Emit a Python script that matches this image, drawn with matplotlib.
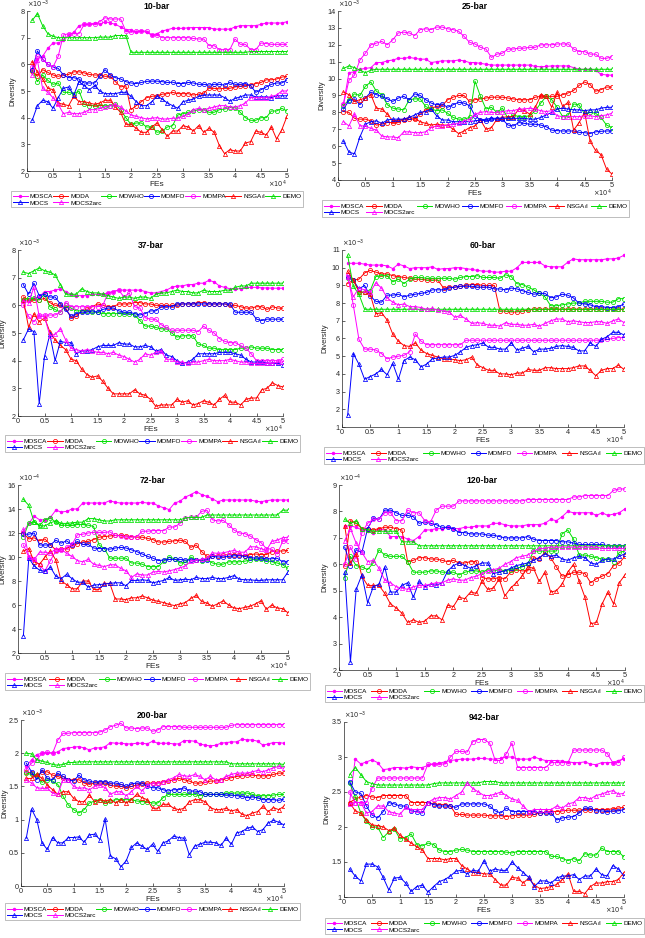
import matplotlib.pyplot as plt
import numpy as np

plt.rcParams['font.family'] = ['Liberation Sans', 'DejaVu Sans']
plt.rcParams['mathtext.fontset'] = 'dejavusans'

W, H = 645, 938

# function evaluations (x axis), plotted in units of 1e4
fes = np.arange(1000, 50001, 1000)

algos = ['MOSCA', 'MODA', 'MOWHO', 'MOMFO', 'MOMPA', r'NSGA$_{I}$I', 'DEMO', 'MOCS', 'MOCS2arc']
colors = ['#ff00ff', '#ff0000', '#00e000', '#0000ff', '#ff00ff', '#ff0000', '#00e000', '#0000ff', '#ff00ff']
markers = ['.', 'o', 'o', 'o', 'o', '^', '^', '^', '^']

# ---------------- 10-bar (x1e-3) ----------------
b10_mosca = [5.8, 6.2, 6.3, 6.6, 6.8, 6.8, 6.9, 7.1, 7.2, 7.45, 7.5, 7.5, 7.55, 7.5, 7.6, 7.55, 7.5, 7.4, 7.3, 7.3,
             7.2, 7.25, 7.2, 7.1, 7.15, 7.25, 7.3, 7.35, 7.35, 7.35, 7.37, 7.38, 7.38, 7.38, 7.38, 7.32, 7.32, 7.32, 7.32, 7.4,
             7.45, 7.45, 7.45, 7.45, 7.5, 7.55, 7.55, 7.55, 7.55, 7.6]
b10_moda = [5.75, 5.55, 5.8, 5.7, 5.6, 5.55, 5.6, 5.62, 5.72, 5.72, 5.68, 5.62, 5.6, 5.6, 5.55, 5.55, 5.35, 5.15, 5.2, 4.3,
            4.45, 4.6, 4.75, 4.8, 4.82, 4.88, 4.9, 4.95, 4.9, 4.9, 4.9, 4.85, 4.88, 4.92, 5.1, 5.1, 5.08, 5.1, 5.1, 5.15,
            5.18, 5.2, 5.22, 5.28, 5.32, 5.42, 5.42, 5.45, 5.52, 5.55]
b10_mowho = [5.8, 5.35, 5.6, 5.4, 5.25, 5.3, 4.95, 4.95, 4.9, 5.0, 4.5, 4.45, 4.45, 4.45, 4.45, 4.45, 4.5, 4.3, 4.0, 3.75,
             3.8, 3.8, 3.65, 3.65, 3.45, 3.5, 3.65, 3.7, 4.1, 4.15, 4.2, 4.25, 4.3, 4.3, 4.2, 4.2, 4.3, 4.32, 4.38, 4.38,
             4.2, 4.0, 3.9, 3.9, 4.0, 4.0, 4.25, 4.25, 4.35, 4.25]
b10_momfo = [5.8, 6.5, 6.2, 6.0, 5.9, 5.85, 5.6, 5.5, 5.5, 5.45, 5.3, 5.3, 5.3, 5.55, 5.8, 5.6, 5.5, 5.45, 5.35, 5.3,
             5.28, 5.32, 5.36, 5.37, 5.37, 5.35, 5.32, 5.33, 5.28, 5.28, 5.32, 5.3, 5.25, 5.25, 5.22, 5.25, 5.25, 5.22, 5.32, 5.25,
             5.25, 5.28, 5.2, 4.95, 5.05, 5.15, 5.25, 5.3, 5.3, 5.42]
b10_mompa = [5.9, 6.3, 6.2, 6.0, 5.9, 6.3, 7.1, 7.15, 7.15, 7.15, 7.5, 7.5, 7.5, 7.6, 7.75, 7.7, 7.7, 7.7, 7.25, 7.2,
             7.25, 7.25, 7.25, 7.1, 7.1, 7.0, 7.0, 7.0, 7.0, 7.0, 7.0, 6.97, 6.95, 6.95, 6.7, 6.7, 6.55, 6.55, 6.55, 6.95,
             6.75, 6.75, 6.55, 6.55, 6.8, 6.78, 6.75, 6.75, 6.75, 6.75]
b10_nsga = [6.1, 5.7, 5.45, 5.1, 5.05, 4.55, 4.5, 4.45, 4.8, 4.6, 4.6, 4.55, 4.5, 4.55, 4.65, 4.65, 4.4, 4.2, 3.75, 3.75,
            3.6, 3.45, 3.45, 3.65, 3.8, 3.55, 3.3, 3.5, 3.5, 3.7, 3.65, 3.5, 3.7, 3.45, 3.6, 3.45, 2.95, 2.65, 2.8, 2.75,
            2.75, 3.05, 3.1, 3.5, 3.45, 3.35, 3.65, 3.2, 3.55, 4.05]
b10_demo = [7.65, 7.9, 7.45, 7.15, 7.05, 7.0, 7.0, 7.0, 7.0, 7.0, 7.0, 7.0, 7.0, 7.02, 7.02, 7.02, 7.08, 7.08, 7.08, 6.45,
            6.45, 6.45, 6.45, 6.45, 6.45, 6.45, 6.45, 6.45, 6.45, 6.45, 6.45, 6.45, 6.45, 6.45, 6.45, 6.45, 6.45, 6.45, 6.45, 6.45,
            6.45, 6.45, 6.48, 6.48, 6.48, 6.48, 6.48, 6.48, 6.48, 6.48]
b10_mocs = [3.9, 4.45, 4.65, 4.6, 4.35, 4.75, 5.1, 5.15, 4.85, 5.35, 5.2, 5.05, 5.2, 5.0, 4.9, 4.9, 4.9, 4.95, 4.95, 4.8,
            4.6, 4.45, 4.45, 4.6, 4.8, 4.7, 4.55, 4.45, 4.35, 4.6, 4.65, 4.7, 4.8, 4.85, 4.85, 4.85, 4.85, 4.75, 4.62, 4.72,
            4.78, 4.85, 4.85, 4.78, 4.78, 4.78, 4.75, 4.82, 4.82, 4.82]
b10_mocs2 = [5.6, 6.15, 5.1, 4.95, 4.75, 4.5, 4.15, 4.2, 4.15, 4.15, 4.2, 4.3, 4.3, 4.35, 4.4, 4.45, 4.5, 4.4, 4.25, 4.1,
             4.05, 4.0, 3.95, 3.98, 4.0, 3.95, 3.95, 3.98, 3.98, 4.05, 4.15, 4.3, 4.35, 4.3, 4.35, 4.4, 4.45, 4.45, 4.4, 4.4,
             4.45, 4.55, 4.75, 4.75, 4.75, 4.75, 4.8, 4.85, 5.0, 5.0]

# ---------------- 25-bar (x1e-3) ----------------
b25_mosca = [8.5, 10.35, 10.4, 10.55, 10.6, 10.65, 10.95, 10.95, 11.05, 11.1, 11.2, 11.2, 11.25, 11.2, 11.15, 11.15, 10.95, 11.0, 11.05, 11.05,
             11.05, 11.1, 11.05, 10.95, 10.95, 10.9, 10.85, 10.8, 10.8, 10.8, 10.8, 10.8, 10.8, 10.8, 10.8, 10.72, 10.7, 10.72, 10.75, 10.75,
             10.75, 10.75, 10.65, 10.55, 10.55, 10.55, 10.5, 10.25, 10.22, 10.2]
b25_moda = [8.05, 8.0, 7.65, 7.6, 7.6, 7.5, 7.25, 7.3, 7.4, 7.4, 7.45, 7.55, 7.6, 7.6, 7.9, 8.15, 8.25, 8.35, 8.4, 8.75,
            8.9, 9.0, 9.0, 8.65, 8.75, 8.8, 8.85, 8.9, 8.9, 8.9, 8.85, 8.8, 8.75, 8.75, 8.75, 8.9, 8.95, 8.95, 8.95, 8.95,
            9.05, 9.15, 9.3, 9.6, 9.8, 9.65, 9.25, 9.35, 9.5, 9.5]
b25_mowho = [8.4, 8.75, 9.1, 9.0, 9.55, 9.8, 9.25, 9.05, 8.45, 8.25, 8.2, 8.15, 8.75, 8.8, 8.8, 8.35, 8.2, 8.1, 8.15, 7.95,
             7.7, 7.6, 7.6, 7.7, 9.85, 8.95, 8.2, 8.3, 8.0, 8.25, 7.65, 7.85, 7.75, 7.75, 7.8, 8.1, 8.55, 8.95, 8.75, 8.3,
             7.75, 7.85, 8.5, 8.45, 7.9, 8.0, 7.95, 7.7, 7.25, 7.1]
b25_momfo = [8.2, 8.7, 8.8, 8.45, 8.85, 9.2, 9.05, 8.95, 8.8, 8.65, 8.85, 8.95, 8.75, 9.1, 9.0, 8.75, 8.55, 8.45, 8.5, 8.3,
             8.45, 8.6, 8.55, 8.4, 7.8, 7.55, 7.5, 7.6, 7.6, 7.6, 7.25, 7.2, 7.4, 7.35, 7.3, 7.3, 7.25, 7.15, 6.95, 6.92,
             6.9, 6.9, 6.9, 6.82, 6.8, 6.75, 6.85, 6.88, 6.9, 6.9]
b25_mompa = [8.5, 9.9, 10.2, 11.1, 11.5, 12.0, 12.1, 12.2, 12.0, 12.3, 12.7, 12.75, 12.7, 12.55, 12.9, 12.95, 12.9, 13.05, 13.05, 12.95,
             12.9, 12.8, 12.5, 12.15, 12.05, 11.85, 11.75, 11.25, 11.45, 11.5, 11.75, 11.75, 11.8, 11.8, 11.85, 11.85, 12.0, 12.0, 12.0, 12.05,
             12.05, 12.05, 11.75, 11.6, 11.6, 11.45, 11.45, 11.2, 11.2, 11.3]
b25_nsga = [9.2, 9.05, 8.65, 8.75, 8.85, 9.05, 8.25, 8.2, 7.9, 7.5, 7.55, 7.6, 7.7, 7.65, 7.45, 7.35, 7.25, 7.3, 7.25, 7.25,
            7.0, 6.75, 6.9, 7.1, 7.2, 7.55, 7.0, 7.1, 7.6, 7.7, 7.75, 7.75, 8.2, 8.1, 7.9, 8.3, 9.0, 8.95, 8.3, 9.2,
            8.35, 8.6, 6.95, 7.4, 8.0, 6.3, 5.75, 5.5, 4.65, 4.35]
b25_demo = [10.6, 10.75, 10.65, 10.5, 10.35, 10.5, 10.55, 10.55, 10.55, 10.55, 10.55, 10.55, 10.55, 10.55, 10.55, 10.55, 10.55, 10.55, 10.55, 10.55,
            10.55, 10.55, 10.55, 10.55, 10.55, 10.55, 10.55, 10.55, 10.55, 10.55, 10.55, 10.55, 10.55, 10.55, 10.55, 10.55, 10.55, 10.55, 10.55, 10.55,
            10.55, 10.55, 10.55, 10.55, 10.55, 10.55, 10.55, 10.55, 10.55, 10.55]
b25_mocs = [6.3, 5.65, 5.55, 6.55, 7.3, 7.45, 7.5, 7.35, 7.55, 7.6, 7.6, 7.6, 7.7, 7.85, 8.0, 8.05, 8.2, 7.8, 7.55, 7.55,
            7.45, 7.45, 7.45, 7.45, 7.5, 7.55, 7.6, 7.65, 7.65, 7.65, 7.65, 7.65, 7.65, 7.65, 7.6, 7.6, 7.7, 7.85, 8.0, 8.2,
            8.25, 8.2, 8.15, 8.15, 8.1, 8.15, 8.15, 8.25, 8.3, 8.3]
b25_mocs2 = [7.45, 7.2, 7.9, 7.2, 7.2, 7.05, 6.95, 6.6, 6.55, 6.55, 6.5, 6.85, 6.85, 6.8, 6.8, 6.85, 7.1, 7.2, 7.2, 7.25,
             7.3, 7.35, 7.5, 7.6, 7.9, 8.0, 8.05, 8.0, 8.0, 8.05, 8.1, 8.1, 8.2, 8.2, 8.25, 8.2, 8.1, 8.05, 8.1, 7.8,
             7.75, 7.75, 7.75, 7.75, 7.8, 7.8, 7.75, 7.8, 7.85, 7.95]

# ---------------- 37-bar (x1e-3) ----------------
b37_mosca = [6.2, 6.15, 6.25, 6.3, 6.5, 6.5, 6.55, 6.6, 6.5, 6.4, 6.35, 6.35, 6.35, 6.4, 6.4, 6.4, 6.45, 6.5, 6.55, 6.55,
             6.55, 6.55, 6.55, 6.5, 6.45, 6.45, 6.5, 6.55, 6.65, 6.7, 6.7, 6.75, 6.75, 6.8, 6.8, 6.9, 6.85, 6.7, 6.65, 6.6,
             6.6, 6.6, 6.65, 6.65, 6.65, 6.63, 6.63, 6.62, 6.62, 6.62]
b37_moda = [6.3, 6.2, 6.2, 6.2, 6.25, 6.1, 6.0, 6.0, 5.9, 5.55, 5.6, 5.8, 5.85, 5.95, 6.05, 6.0, 5.95, 5.95, 6.05, 6.05,
            6.05, 6.1, 6.1, 6.05, 6.05, 6.0, 6.0, 6.0, 6.0, 6.0, 6.05, 6.05, 6.05, 6.1, 6.1, 6.05, 6.05, 6.05, 6.05, 6.0,
            6.0, 5.95, 5.9, 5.9, 5.95, 5.95, 5.85, 5.95, 5.9, 5.9]
b37_mowho = [6.2, 6.25, 6.25, 6.2, 6.4, 5.95, 5.85, 5.75, 6.0, 5.9, 5.8, 5.8, 5.8, 5.75, 5.75, 5.7, 5.7, 5.7, 5.7, 5.7,
             5.7, 5.65, 5.45, 5.25, 5.25, 5.2, 5.15, 5.15, 5.0, 4.85, 4.9, 4.9, 4.9, 4.6, 4.55, 4.45, 4.45, 4.4, 4.4, 4.4,
             4.4, 4.45, 4.45, 4.5, 4.45, 4.45, 4.45, 4.4, 4.4, 4.4]
b37_momfo = [6.75, 6.4, 6.8, 6.35, 6.4, 6.3, 6.3, 6.05, 5.85, 5.6, 5.7, 5.75, 5.75, 5.8, 5.75, 5.85, 5.9, 5.9, 5.8, 5.75,
             5.75, 5.7, 5.65, 5.7, 5.8, 5.8, 5.95, 5.95, 5.95, 6.05, 6.05, 6.05, 6.05, 6.05, 6.05, 6.05, 6.05, 6.05, 6.05, 6.05,
             5.75, 5.75, 5.75, 5.75, 5.5, 5.45, 5.5, 5.5, 5.5, 5.5]
b37_mompa = [6.0, 5.6, 5.4, 5.65, 5.65, 5.65, 5.65, 5.75, 6.1, 5.95, 5.95, 5.95, 5.95, 5.95, 5.95, 6.0, 6.45, 6.5, 6.55, 6.3,
             6.45, 5.95, 5.9, 5.55, 5.5, 5.5, 5.3, 5.2, 5.1, 5.1, 5.1, 5.1, 5.1, 5.05, 5.25, 5.1, 5.0, 4.8, 4.7, 4.65,
             4.65, 4.55, 4.45, 4.25, 4.0, 4.0, 4.0, 4.0, 4.0, 4.05]
b37_nsga = [6.2, 5.2, 5.7, 5.4, 5.55, 5.05, 4.75, 4.55, 4.4, 4.05, 4.0, 3.7, 3.5, 3.4, 3.45, 3.25, 3.0, 2.8, 2.8, 2.8,
            2.8, 2.95, 2.8, 2.75, 2.6, 2.35, 2.4, 2.4, 2.4, 2.6, 2.5, 2.55, 2.4, 2.45, 2.55, 2.5, 2.4, 2.6, 2.75, 2.5,
            2.5, 2.4, 2.6, 2.65, 2.65, 2.95, 3.0, 3.2, 3.1, 3.05]
b37_demo = [7.2, 7.15, 7.25, 7.35, 7.25, 7.2, 7.1, 6.75, 6.4, 6.4, 6.4, 6.6, 6.5, 6.45, 6.45, 6.4, 6.35, 6.3, 6.25, 6.3,
            6.3, 6.25, 6.3, 6.3, 6.25, 6.4, 6.45, 6.45, 6.5, 6.55, 6.5, 6.5, 6.45, 6.45, 6.55, 6.5, 6.5, 6.5, 6.55, 6.55,
            6.65, 6.7, 6.7, 6.8, 6.8, 6.8, 6.8, 6.8, 6.8, 6.8]
b37_mocs = [4.75, 5.15, 5.05, 2.45, 4.15, 4.95, 4.0, 4.7, 4.65, 4.65, 4.25, 4.35, 4.35, 4.4, 4.5, 4.55, 4.55, 4.55, 4.65, 4.6,
            4.6, 4.5, 4.5, 4.55, 4.5, 4.35, 4.4, 4.2, 4.15, 4.0, 3.9, 3.95, 4.05, 4.25, 4.25, 4.25, 4.25, 4.3, 4.3, 4.3,
            4.25, 4.2, 4.05, 3.95, 3.95, 3.95, 3.9, 3.9, 3.9, 3.85]
b37_mocs2 = [6.15, 6.1, 6.65, 5.6, 5.6, 4.9, 4.95, 5.15, 4.75, 4.45, 4.4, 4.35, 4.4, 4.35, 4.3, 4.3, 4.25, 4.3, 4.2, 4.15,
             4.05, 3.95, 4.05, 4.25, 4.2, 4.3, 4.35, 4.05, 4.05, 3.95, 3.95, 3.9, 3.95, 3.95, 4.0, 4.05, 4.0, 4.0, 4.0, 4.05,
             4.0, 3.95, 3.95, 3.9, 3.9, 3.9, 3.9, 3.9, 3.95, 3.95]

# ---------------- 60-bar (x1e-3) ----------------
b60_mosca = [10.25, 10.25, 10.25, 10.2, 10.15, 10.15, 10.15, 10.1, 9.95, 10.2, 10.1, 9.95, 10.0, 10.0, 10.0, 10.05, 9.9, 9.95, 9.95, 10.0,
             10.0, 9.95, 9.9, 9.85, 9.8, 9.8, 9.75, 9.75, 9.8, 9.8, 10.0, 10.3, 10.3, 10.3, 10.3, 10.1, 10.05, 10.05, 10.05, 10.3,
             10.5, 10.45, 10.45, 10.45, 10.45, 10.45, 10.5, 10.5, 10.55, 10.7]
b60_moda = [9.1, 9.3, 9.35, 9.7, 9.85, 9.75, 9.65, 9.65, 9.55, 9.5, 9.45, 9.4, 9.35, 9.35, 9.3, 9.3, 9.3, 8.85, 8.9, 8.9,
            8.95, 9.0, 9.05, 9.05, 9.0, 9.0, 9.0, 7.55, 7.55, 7.5, 7.5, 7.55, 7.6, 7.65, 7.65, 7.65, 7.65, 7.65, 7.65, 7.65,
            7.65, 7.65, 7.65, 7.65, 7.65, 7.65, 7.65, 7.65, 7.65, 7.65]
b60_mowho = [9.4, 9.3, 8.65, 8.6, 8.7, 9.5, 9.55, 9.55, 9.2, 9.35, 9.1, 9.35, 9.45, 9.45, 9.4, 9.4, 9.4, 9.4, 9.4, 9.35,
             9.45, 9.5, 9.5, 9.55, 9.45, 9.45, 9.45, 9.4, 9.6, 9.5, 9.1, 9.05, 8.9, 8.75, 8.55, 8.35, 7.85, 7.85, 7.9, 7.95,
             8.0, 8.0, 8.1, 8.1, 8.1, 8.1, 8.05, 8.05, 8.25, 8.25]
b60_momfo = [9.5, 9.3, 8.8, 9.0, 8.4, 8.1, 8.05, 8.45, 8.45, 8.5, 8.35, 8.45, 8.5, 8.55, 8.6, 8.75, 8.75, 8.75, 8.85, 8.9,
             8.95, 8.95, 8.95, 8.9, 8.9, 8.9, 8.8, 8.8, 8.75, 8.85, 8.8, 8.7, 8.6, 8.5, 8.55, 8.55, 8.3, 8.35, 8.5, 8.45,
             8.3, 8.0, 7.95, 7.9, 7.8, 7.8, 7.75, 7.75, 7.8, 7.95]
b60_mompa = [9.6, 7.9, 5.95, 5.4, 5.4, 5.35, 5.15, 4.85, 4.95, 5.0, 5.05, 5.25, 6.25, 5.85, 5.65, 5.65, 5.65, 5.65, 5.65, 5.65,
             5.65, 5.9, 5.9, 5.9, 5.9, 5.9, 5.9, 5.9, 5.9, 5.9, 5.9, 5.9, 5.9, 5.9, 5.9, 5.9, 5.9, 5.9, 5.9, 5.9,
             5.9, 5.9, 5.9, 5.9, 5.9, 5.9, 5.95, 6.0, 6.05, 6.05]
b60_nsga = [9.8, 9.3, 8.65, 8.6, 8.5, 7.4, 7.45, 7.05, 6.25, 5.85, 5.6, 5.55, 5.75, 5.35, 5.15, 5.05, 4.95, 4.85, 4.85, 4.8,
            4.75, 4.8, 4.95, 4.5, 4.35, 4.2, 4.2, 4.0, 4.0, 3.95, 4.05, 4.05, 4.25, 4.2, 4.2, 4.35, 4.35, 4.3, 4.3, 4.3,
            4.35, 4.45, 4.45, 4.2, 3.9, 4.2, 4.3, 4.3, 4.5, 4.25]
b60_demo = [10.7, 8.95, 8.5, 7.65, 7.65, 7.65, 7.65, 7.65, 7.65, 7.65, 7.65, 7.65, 7.65, 7.65, 7.65, 7.65, 7.65, 7.65, 7.65, 7.65,
            7.65, 7.65, 7.65, 7.65, 7.65, 7.65, 7.65, 7.65, 7.65, 7.65, 7.65, 7.65, 7.65, 7.65, 7.65, 7.65, 7.65, 7.65, 7.65, 7.65,
            7.65, 7.65, 7.65, 7.65, 7.65, 7.65, 7.65, 7.65, 7.65, 7.65]
b60_mocs = [1.65, 5.15, 4.55, 3.7, 3.85, 4.0, 4.25, 3.95, 4.6, 3.7, 4.75, 4.95, 4.8, 4.4, 4.55, 4.85, 4.9, 4.95, 4.95, 5.05,
            5.25, 5.5, 5.6, 5.65, 5.75, 5.5, 5.5, 5.4, 5.4, 5.75, 5.35, 5.45, 5.55, 5.25, 5.4, 5.4, 5.45, 5.55, 5.6, 5.55,
            5.5, 5.3, 5.3, 5.75, 5.55, 5.95, 6.1, 6.35, 6.35, 6.2]
b60_mocs2 = [9.45, 8.35, 8.85, 8.75, 8.6, 9.15, 8.85, 8.3, 8.05, 7.9, 7.95, 7.8, 7.8, 7.75, 7.65, 7.7, 7.6, 7.55, 7.5, 7.2,
             7.3, 7.1, 6.85, 6.9, 6.85, 6.75, 6.75, 6.7, 6.9, 6.8, 6.8, 6.75, 6.75, 6.8, 6.7, 6.85, 7.0, 7.1, 7.1, 6.95,
             7.0, 6.95, 6.9, 6.9, 6.95, 6.95, 6.85, 7.0, 7.1, 6.9]

# ---------------- 72-bar (x1e-4) ----------------
b72_mosca = [12.1, 12.8, 13.4, 13.1, 13.1, 13.3, 13.9, 13.75, 13.8, 14.0, 14.0, 14.5, 14.5, 14.5, 14.5, 14.5, 14.7, 14.55, 14.5, 14.5,
             14.5, 14.5, 14.55, 14.5, 14.5, 14.25, 14.1, 13.95, 14.5, 14.65, 15.0, 15.2, 15.45, 15.2, 15.05, 14.85, 14.6, 14.75, 14.75, 14.75,
             14.75, 14.75, 14.75, 14.65, 14.6, 14.7, 14.75, 14.75, 14.75, 14.75]
b72_moda = [12.0, 11.5, 11.6, 11.35, 11.5, 11.0, 10.6, 10.65, 10.7, 10.95, 11.1, 11.25, 11.3, 11.45, 11.65, 11.7, 11.75, 11.8, 11.8, 11.75,
            11.7, 11.65, 11.65, 11.55, 11.45, 11.25, 11.25, 11.3, 11.35, 11.4, 11.3, 10.8, 11.0, 10.45, 10.05, 10.1, 10.1, 10.15, 10.2, 10.2,
            10.15, 10.1, 10.2, 10.25, 10.2, 10.2, 10.45, 10.5, 10.5, 10.55]
b72_mowho = [11.7, 12.8, 12.95, 12.65, 13.1, 13.25, 12.9, 12.65, 12.65, 12.65, 12.7, 12.7, 12.65, 12.55, 11.0, 10.7, 9.9, 9.9, 9.9, 9.9,
             9.5, 9.5, 9.4, 9.2, 9.2, 9.2, 9.65, 10.0, 9.85, 9.5, 9.55, 10.0, 9.75, 9.7, 9.8, 9.5, 9.4, 9.4, 9.6, 9.6,
             9.6, 9.65, 9.75, 9.8, 9.8, 9.7, 9.6, 9.5, 9.35, 9.05]
b72_momfo = [11.9, 11.9, 12.0, 11.0, 11.0, 11.0, 11.4, 11.15, 11.35, 11.0, 11.3, 11.05, 11.05, 10.75, 10.7, 10.7, 10.65, 10.75, 10.8, 10.75,
             10.6, 10.45, 10.25, 10.05, 9.9, 9.7, 9.75, 9.8, 9.8, 9.8, 9.75, 9.75, 9.75, 9.75, 9.75, 10.05, 10.0, 10.0, 10.05, 10.1,
             10.1, 10.05, 9.95, 9.9, 9.9, 9.85, 9.85, 9.9, 9.6, 9.6]
b72_mompa = [11.0, 10.0, 9.8, 9.3, 8.85, 9.7, 10.5, 10.55, 10.8, 11.05, 11.85, 11.9, 12.0, 12.05, 12.05, 12.05, 12.1, 11.8, 11.75, 11.65,
             11.65, 11.7, 12.15, 12.15, 12.2, 12.2, 12.2, 12.5, 12.5, 12.8, 13.25, 13.3, 13.3, 13.8, 13.9, 13.1, 13.0, 13.05, 12.7, 12.25,
             12.0, 11.95, 11.75, 11.45, 11.2, 10.7, 10.65, 10.25, 11.3, 11.35]
b72_nsga = [10.5, 10.7, 9.6, 9.4, 10.0, 10.5, 9.75, 8.0, 7.7, 7.35, 7.35, 8.0, 8.0, 7.3, 7.3, 7.8, 7.8, 6.5, 6.5, 6.45,
            6.6, 6.6, 6.75, 6.6, 6.4, 6.3, 6.2, 6.05, 5.95, 6.1, 6.2, 6.55, 6.8, 6.3, 6.15, 5.9, 6.1, 6.35, 6.0, 5.75,
            5.7, 5.8, 5.9, 6.1, 6.35, 5.65, 6.0, 5.75, 5.7, 5.35]
b72_demo = [14.8, 14.3, 12.9, 12.6, 12.6, 12.85, 13.0, 12.8, 12.8, 12.85, 12.9, 12.9, 13.2, 13.2, 13.1, 13.0, 13.0, 13.1, 13.1, 13.1,
            13.1, 13.1, 13.1, 13.1, 13.1, 13.1, 13.1, 13.1, 13.1, 13.1, 13.25, 13.3, 13.3, 13.3, 13.5, 13.5, 13.5, 13.5, 13.5, 13.5,
            13.5, 13.5, 13.5, 13.5, 13.5, 13.5, 13.5, 13.5, 13.9, 13.9]
b72_mocs = [3.45, 9.9, 9.25, 8.9, 8.8, 9.15, 8.4, 8.2, 8.55, 8.2, 7.9, 7.9, 7.5, 7.65, 7.7, 7.75, 7.8, 7.85, 7.85, 7.6,
            8.05, 8.05, 8.1, 8.05, 7.85, 7.95, 8.05, 8.3, 8.05, 8.1, 8.15, 8.1, 8.3, 8.2, 8.2, 8.3, 8.2, 8.2, 8.3, 8.45,
            8.15, 8.1, 8.1, 8.05, 8.05, 8.1, 8.1, 8.1, 8.1, 8.75]
b72_mocs2 = [12.3, 10.0, 9.8, 10.4, 10.4, 10.3, 10.7, 10.65, 10.3, 10.05, 9.7, 9.6, 9.8, 9.4, 9.3, 9.2, 9.35, 9.35, 9.05, 8.85,
             8.3, 8.6, 8.5, 8.5, 8.75, 8.8, 8.75, 8.85, 8.95, 9.1, 9.25, 9.65, 9.75, 9.8, 9.9, 10.35, 10.3, 10.35, 10.45, 10.55,
             10.4, 10.4, 10.85, 10.85, 10.7, 10.55, 11.3, 11.4, 11.6, 11.65]

# ---------------- 120-bar (x1e-4) ----------------
b120_mosca = [7.45, 7.45, 7.4, 7.3, 7.25, 7.2, 7.35, 7.3, 7.05, 7.05, 7.05, 6.95, 6.9, 7.05, 7.3, 7.3, 7.35, 7.35, 7.4, 7.35,
              7.35, 7.4, 7.4, 7.45, 7.45, 7.45, 7.55, 7.55, 7.5, 7.45, 7.45, 7.45, 7.5, 7.5, 7.5, 7.55, 7.7, 7.65, 7.8, 8.0,
              7.95, 7.95, 7.95, 7.95, 7.85, 7.95, 7.85, 7.9, 7.95, 8.1]
b120_moda = [5.95, 7.65, 7.55, 7.35, 7.35, 7.3, 7.35, 7.4, 7.4, 7.35, 7.3, 6.1, 6.15, 6.25, 6.25, 6.2, 6.2, 6.15, 6.1, 6.15,
             6.05, 6.05, 6.1, 6.1, 5.5, 5.45, 5.45, 5.5, 5.45, 5.7, 5.8, 5.75, 5.75, 6.25, 6.2, 6.45, 6.25, 5.9, 5.55, 5.6,
             5.7, 5.7, 5.65, 5.3, 5.45, 5.55, 5.65, 5.95, 6.05, 6.3]
b120_mowho = [5.5, 6.3, 5.95, 5.9, 5.8, 6.05, 6.55, 6.35, 6.3, 6.3, 6.3, 6.1, 5.7, 5.7, 5.7, 5.75, 5.75, 5.7, 5.7, 5.7,
              5.6, 5.7, 5.75, 5.75, 5.7, 5.8, 5.75, 5.8, 5.75, 5.8, 5.85, 5.9, 6.0, 6.5, 6.5, 6.5, 6.5, 6.5, 7.15, 7.3,
              6.95, 6.35, 6.35, 6.3, 6.25, 6.2, 6.2, 6.1, 6.45, 6.5]
b120_momfo = [6.65, 5.95, 6.55, 6.45, 7.35, 7.75, 7.7, 8.05, 8.05, 7.95, 7.85, 7.85, 7.8, 7.55, 7.6, 7.55, 7.5, 7.4, 7.4, 7.35,
              7.2, 7.2, 7.15, 7.15, 7.15, 7.1, 7.1, 7.05, 7.0, 7.0, 7.0, 7.0, 7.05, 6.95, 6.9, 6.9, 6.9, 6.9, 6.85, 6.85,
              6.8, 6.75, 6.75, 6.75, 6.75, 6.75, 6.7, 6.7, 6.7, 6.7]
b120_mompa = [6.0, 6.65, 6.2, 7.2, 7.55, 7.7, 7.7, 7.95, 7.95, 7.65, 7.65, 8.05, 7.95, 7.95, 7.65, 7.6, 8.05, 8.2, 8.2, 8.2,
              8.4, 8.4, 8.4, 8.4, 8.4, 8.4, 8.4, 8.4, 8.4, 8.4, 8.4, 8.4, 8.45, 8.45, 8.45, 8.45, 8.45, 8.45, 8.45, 8.45,
              8.55, 8.55, 8.6, 8.6, 8.6, 8.6, 8.6, 8.8, 8.85, 8.85]
b120_nsga = [7.45, 6.05, 6.4, 5.55, 5.2, 5.2, 5.2, 4.9, 4.5, 4.35, 4.15, 3.8, 3.9, 3.8, 3.85, 4.05, 4.05, 3.9, 4.45, 4.4,
             4.75, 4.7, 4.95, 4.9, 5.35, 5.05, 5.1, 5.45, 4.8, 5.1, 5.3, 5.55, 5.9, 5.85, 5.35, 5.7, 4.95, 5.0, 5.25, 5.7,
             6.0, 5.35, 4.75, 3.75, 3.8, 4.5, 4.95, 4.5, 5.3, 5.6]
b120_demo = [7.7, 7.55, 7.65, 7.35, 7.3, 7.25, 7.25, 7.25, 7.25, 7.25, 6.85, 6.85, 6.85, 6.7, 6.7, 6.7, 6.7, 6.7, 6.7, 6.7,
             6.7, 6.7, 6.7, 6.7, 6.7, 6.7, 6.7, 6.7, 6.7, 6.7, 6.7, 6.7, 6.7, 6.7, 6.7, 6.7, 6.7, 6.7, 6.7, 6.7,
             6.7, 6.7, 6.7, 6.7, 6.7, 6.7, 6.7, 6.7, 6.7, 6.7]
b120_mocs = [5.7, 2.3, 5.05, 5.6, 4.55, 5.15, 5.25, 5.9, 4.95, 4.95, 5.2, 5.3, 4.75, 5.35, 5.15, 5.25, 5.2, 5.3, 5.75, 5.95,
             6.05, 5.95, 5.85, 5.95, 6.05, 6.05, 5.65, 5.7, 5.75, 5.85, 5.95, 6.0, 6.05, 6.15, 6.25, 6.4, 6.3, 6.35, 6.2, 6.15,
             6.25, 6.3, 6.25, 6.05, 6.0, 6.15, 6.2, 6.2, 6.3, 6.4]
b120_mocs2 = [6.9, 7.35, 6.8, 6.45, 6.1, 6.15, 5.85, 5.4, 5.3, 5.15, 5.1, 5.05, 5.15, 5.2, 5.2, 5.25, 5.3, 5.3, 5.4, 5.45,
              5.4, 5.4, 5.5, 5.55, 5.65, 5.75, 5.8, 5.85, 6.0, 6.1, 6.25, 6.3, 6.35, 6.5, 6.6, 6.6, 6.65, 6.65, 6.65, 6.65,
              6.65, 6.65, 6.65, 6.65, 6.65, 6.6, 6.6, 6.6, 6.6, 6.6]

# ---------------- 200-bar (x1e-3) ----------------
b200_mosca = [1.8, 1.9, 1.98, 2.0, 2.0, 2.0, 2.02, 2.07, 2.08, 2.09, 2.1, 2.08, 2.05, 2.08, 2.08, 2.1, 2.16, 2.15, 2.15, 2.14,
              2.14, 2.15, 2.15, 2.14, 2.18, 2.15, 2.15, 2.15, 2.14, 2.14, 2.19, 2.19, 2.18, 2.14, 2.12, 2.11, 2.12, 2.15, 2.16, 2.17,
              2.17, 2.21, 2.2, 2.2, 2.18, 2.12, 2.14, 2.16, 2.16, 2.15]
b200_moda = [1.72, 1.7, 1.65, 1.72, 1.72, 1.67, 1.65, 1.62, 1.6, 1.6, 1.6, 1.55, 1.53, 1.55, 1.55, 1.55, 1.52, 1.5, 1.5, 1.48,
             1.5, 1.52, 1.54, 1.55, 1.55, 1.55, 1.57, 1.58, 1.6, 1.62, 1.6, 1.58, 1.55, 1.55, 1.56, 1.58, 1.58, 1.6, 1.62, 1.63,
             1.65, 1.66, 1.67, 1.67, 1.66, 1.66, 1.66, 1.68, 1.7, 1.7]
b200_mowho = [1.7, 1.68, 1.67, 1.56, 1.6, 1.58, 1.53, 1.35, 1.22, 1.15, 1.1, 1.15, 1.25, 1.28, 1.3, 1.25, 1.28, 1.3, 1.3, 1.3,
              1.3, 1.28, 1.27, 1.27, 1.25, 1.25, 1.33, 1.38, 1.38, 1.38, 1.38, 1.38, 1.38, 1.36, 1.38, 1.38, 1.38, 1.38, 1.4, 1.4,
              1.4, 1.4, 1.4, 1.38, 1.36, 1.36, 1.36, 1.37, 1.38, 1.38]
b200_momfo = [1.85, 1.72, 1.6, 1.75, 1.62, 1.6, 1.7, 1.65, 1.6, 1.58, 1.67, 1.6, 1.58, 1.56, 1.57, 1.57, 1.55, 1.55, 1.53, 1.5,
              1.54, 1.55, 1.55, 1.5, 1.48, 1.48, 1.45, 1.43, 1.45, 1.45, 1.48, 1.43, 1.43, 1.42, 1.38, 1.38, 1.38, 1.38, 1.37, 1.37,
              1.36, 1.35, 1.33, 1.34, 1.33, 1.3, 1.3, 1.3, 1.29, 1.31]
b200_mompa = [1.75, 1.85, 1.9, 2.0, 2.02, 2.0, 2.2, 2.3, 2.3, 2.31, 2.31, 2.31, 2.31, 2.31, 2.32, 2.35, 2.4, 2.42, 2.45, 2.38,
              2.38, 2.37, 2.38, 2.38, 2.33, 2.35, 2.4, 2.4, 2.4, 2.4, 2.39, 2.39, 2.39, 2.39, 2.39, 2.39, 2.39, 2.39, 2.39, 2.42,
              2.43, 2.43, 2.43, 2.43, 2.43, 2.43, 2.43, 2.43, 2.43, 2.43]
b200_nsga = [1.62, 1.62, 1.68, 1.62, 1.52, 1.45, 1.38, 1.42, 1.42, 1.32, 1.27, 1.27, 1.37, 1.27, 1.3, 1.28, 1.3, 1.25, 1.3, 1.25,
             1.3, 1.38, 1.33, 1.3, 1.17, 1.17, 1.23, 1.23, 1.17, 1.15, 1.17, 1.27, 1.3, 1.3, 1.27, 1.18, 1.15, 1.15, 1.17, 1.13,
             1.15, 1.08, 1.06, 1.1, 1.12, 1.2, 1.12, 1.18, 1.15, 1.2]
b200_demo = [2.0, 1.99, 1.9, 1.88, 1.86, 1.83, 1.82, 1.83, 1.86, 1.86, 1.87, 1.87, 1.87, 1.87, 1.87, 1.87, 1.87, 1.87, 1.87, 1.87,
             1.87, 1.87, 1.87, 1.87, 1.87, 1.87, 1.87, 1.87, 1.87, 1.87, 1.87, 1.87, 1.87, 1.87, 1.87, 1.87, 1.87, 1.87, 1.87, 1.84,
             1.84, 1.84, 1.84, 1.84, 1.84, 1.84, 1.84, 1.84, 1.84, 1.83]
b200_mocs = [0.72, 1.16, 1.0, 0.65, 0.55, 0.73, 0.65, 0.65, 0.73, 0.73, 0.74, 0.66, 0.77, 0.78, 0.7, 1.01, 0.45, 0.41, 0.29, 0.38,
             0.58, 0.65, 0.6, 0.55, 0.63, 0.52, 0.65, 0.68, 0.75, 0.73, 0.72, 0.47, 0.6, 0.63, 0.66, 0.66, 0.65, 0.61, 0.72, 0.63,
             0.8, 0.82, 0.87, 0.89, 0.82, 0.85, 0.95, 0.99, 0.96, 0.92]
b200_mocs2 = [1.6, 1.55, 1.48, 1.47, 1.47, 1.4, 1.38, 1.6, 1.6, 1.5, 1.47, 1.48, 1.45, 1.5, 1.52, 1.48, 1.38, 1.42, 1.42, 1.36,
              1.42, 1.5, 1.43, 1.52, 1.55, 1.55, 1.57, 1.6, 1.63, 1.68, 1.66, 1.65, 1.68, 1.65, 1.6, 1.65, 1.6, 1.6, 1.65, 1.68,
              1.7, 1.7, 1.7, 1.72, 1.74, 1.72, 1.75, 1.78, 1.8, 1.77]

# ---------------- 942-bar (x1e-3) ----------------
b942_mosca = [2.35, 2.97, 2.9, 2.93, 2.96, 2.92, 2.82, 2.83, 2.85, 2.85, 2.84, 2.86, 2.85, 2.85, 2.88, 2.9, 2.91, 2.93, 2.95, 2.96,
              2.97, 2.97, 2.97, 2.98, 2.98, 2.97, 2.97, 2.98, 3.0, 3.0, 2.97, 2.97, 2.97, 3.0, 2.97, 2.95, 2.95, 2.95, 2.94, 2.93,
              2.92, 2.92, 2.93, 2.9, 2.89, 2.92, 2.92, 2.92, 2.95, 2.97]
b942_moda = [2.35, 2.4, 2.43, 2.45, 2.43, 2.42, 2.45, 2.45, 2.45, 2.45, 2.45, 2.35, 2.35, 2.35, 2.35, 2.33, 2.32, 2.32, 2.3, 2.18,
             2.18, 2.17, 2.17, 2.17, 2.17, 2.16, 2.16, 2.16, 2.15, 2.16, 2.17, 2.17, 2.17, 2.18, 2.2, 2.21, 2.22, 2.22, 2.23, 2.24,
             2.24, 2.24, 2.25, 2.25, 2.25, 2.25, 2.25, 2.26, 2.27, 2.28]
b942_mowho = [2.63, 2.43, 2.2, 2.08, 2.0, 2.0, 1.85, 1.93, 1.97, 1.83, 1.85, 1.9, 1.75, 1.73, 1.77, 1.75, 1.67, 1.65, 1.65, 1.67,
              1.68, 1.67, 1.65, 1.65, 1.65, 1.65, 1.65, 1.65, 1.64, 1.63, 1.65, 1.65, 1.65, 1.65, 1.65, 1.65, 1.58, 1.58, 1.55, 1.52,
              1.55, 1.52, 1.62, 1.6, 1.6, 1.7, 1.65, 1.65, 1.65, 1.57]
b942_momfo = [2.65, 2.5, 2.48, 2.3, 2.17, 2.13, 2.22, 2.35, 2.33, 2.3, 2.3, 2.23, 2.22, 2.2, 2.35, 2.32, 2.3, 2.3, 2.3, 2.28,
              2.33, 2.33, 2.33, 2.33, 2.33, 2.3, 2.23, 2.2, 2.27, 2.22, 2.22, 2.22, 2.22, 2.22, 2.2, 2.2, 2.2, 2.1, 2.13, 2.14,
              2.15, 2.2, 2.27, 2.27, 2.23, 2.23, 2.22, 2.23, 2.23, 2.25]
b942_mompa = [2.5, 2.35, 2.35, 2.35, 2.55, 2.7, 2.7, 2.7, 2.7, 2.7, 2.7, 2.7, 2.7, 2.7, 2.9, 2.9, 2.9, 2.9, 3.0, 3.08,
              3.08, 3.07, 3.22, 3.25, 3.25, 3.2, 2.95, 2.95, 3.05, 3.2, 2.85, 2.85, 2.85, 2.85, 2.85, 2.85, 2.92, 2.92, 2.92, 2.92,
              3.1, 3.1, 3.1, 3.1, 3.1, 3.1, 3.05, 2.92, 2.92, 3.0]
b942_nsga = [2.35, 2.23, 2.2, 2.1, 2.03, 2.02, 2.0, 1.95, 1.98, 1.88, 1.83, 1.77, 1.72, 1.67, 1.55, 1.55, 1.55, 1.53, 1.55, 1.55,
             1.45, 1.4, 1.35, 1.35, 1.33, 1.33, 1.25, 1.17, 1.17, 1.28, 1.27, 1.2, 1.27, 1.17, 1.12, 1.13, 1.15, 1.18, 1.25, 1.33,
             1.08, 1.08, 1.05, 1.15, 1.2, 1.2, 1.22, 1.22, 1.25, 1.35]
b942_demo = [2.75, 2.85, 2.75, 2.65, 2.62, 2.6, 2.6, 2.6, 2.6, 2.6, 2.6, 2.6, 2.6, 2.6, 2.6, 2.62, 2.63, 2.63, 2.63, 2.63,
             2.63, 2.63, 2.63, 2.63, 2.65, 2.65, 2.65, 2.63, 2.63, 2.63, 2.63, 2.63, 2.63, 2.63, 2.63, 2.63, 2.63, 2.63, 2.63, 2.63,
             2.63, 2.63, 2.63, 2.63, 2.63, 2.63, 2.63, 2.63, 2.63, 2.63]
b942_mocs = [1.4, 1.3, 1.23, 1.47, 1.47, 1.43, 1.28, 1.1, 1.27, 1.28, 1.2, 1.08, 1.15, 1.17, 1.07, 1.15, 1.22, 1.25, 1.3, 1.37,
             1.38, 1.33, 1.38, 1.37, 1.52, 1.37, 1.4, 1.38, 1.38, 1.5, 1.42, 1.35, 1.28, 1.15, 1.23, 1.23, 1.2, 1.27, 1.3, 1.3,
             1.32, 1.25, 1.3, 1.3, 1.4, 1.32, 1.3, 1.45, 1.4, 1.3]
b942_mocs2 = [2.33, 2.35, 2.35, 2.2, 2.22, 2.3, 2.3, 2.22, 2.2, 2.18, 2.28, 2.25, 2.25, 2.25, 2.35, 2.4, 2.42, 2.42, 2.4, 2.45,
              2.5, 2.63, 2.55, 2.5, 2.45, 2.45, 2.47, 2.5, 2.45, 2.4, 2.38, 2.3, 2.22, 2.25, 2.25, 2.25, 2.25, 2.3, 2.27, 2.33,
              2.35, 2.42, 2.42, 2.4, 2.45, 2.47, 2.5, 2.52, 2.47, 2.48]


def px_rect(l, t, r, b):
    return [l / W, 1 - b / H, (r - l) / W, (b - t) / H]


# title, series, exponent, y ticks, axes box (px), legend box (px), ylabel offset (px)
panels = [
    ('10-bar', [b10_mosca, b10_moda, b10_mowho, b10_momfo, b10_mompa, b10_nsga, b10_demo, b10_mocs, b10_mocs2],
     -3, np.arange(2, 8.1, 1), (27, 11, 287, 171), (11, 190, 303, 208), 11),
    ('25-bar', [b25_mosca, b25_moda, b25_mowho, b25_momfo, b25_mompa, b25_nsga, b25_demo, b25_mocs, b25_mocs2],
     -3, np.arange(4, 14.1, 1), (338, 11, 612, 180), (322, 200, 629, 217), 13),
    ('37-bar', [b37_mosca, b37_moda, b37_mowho, b37_momfo, b37_mompa, b37_nsga, b37_demo, b37_mocs, b37_mocs2],
     -3, np.arange(2, 8.1, 1), (18, 250, 283, 416), (5, 435, 300, 452), 12),
    ('60-bar', [b60_mosca, b60_moda, b60_mowho, b60_momfo, b60_mompa, b60_nsga, b60_demo, b60_mocs, b60_mocs2],
     -3, np.arange(1, 11.1, 1), (342, 250, 624, 427), (324, 446, 644, 465), 14),
    ('72-bar', [b72_mosca, b72_moda, b72_mowho, b72_momfo, b72_mompa, b72_nsga, b72_demo, b72_mocs, b72_mocs2],
     -4, np.arange(2, 16.1, 2), (18, 485, 288, 653), (5, 673, 310, 690), 12),
    ('120-bar', [b120_mosca, b120_moda, b120_mowho, b120_momfo, b120_mompa, b120_nsga, b120_demo, b120_mocs, b120_mocs2],
     -4, np.arange(2, 9.1, 1), (339, 485, 625, 670), (325, 685, 644, 702), 11),
    ('200-bar', [b200_mosca, b200_moda, b200_mowho, b200_momfo, b200_mompa, b200_nsga, b200_demo, b200_mocs, b200_mocs2],
     -3, np.arange(0, 2.51, 0.5), (21, 720, 284, 886), (5, 904, 300, 919), 13),
    ('942-bar', [b942_mosca, b942_moda, b942_mowho, b942_momfo, b942_mompa, b942_nsga, b942_demo, b942_mocs, b942_mocs2],
     -3, np.arange(1, 3.51, 0.5), (344, 722, 624, 897), (325, 917, 644, 935), 14),
]

fig = plt.figure(figsize=(W / 100, H / 100), dpi=100)
fig.patch.set_facecolor('white')

x = fes / 1e4
# matplotlib fills legend columns first: reorder so rows read like the original
leg_order = [0, 7, 1, 8, 2, 3, 4, 5, 6]

for title, series, expo, yticks, box, lbox, ylab_dx in panels:
    ax = fig.add_axes(px_rect(*box))
    handles = []
    for vals, c, m in zip(series, colors, markers):
        if m == '.':
            h, = ax.plot(x, vals, color=c, marker='.', ms=3, lw=0.7)
        else:
            h, = ax.plot(x, vals, color=c, marker=m, ms=3, mfc='none', mew=0.55, lw=0.7)
        handles.append(h)

    ax.set_xlim(0, 5)
    ax.set_ylim(yticks[0], yticks[-1])
    ax.set_xticks(np.arange(0, 5.01, 0.5))
    ax.set_xticklabels(['%g' % v for v in np.arange(0, 5.01, 0.5)])
    ax.set_yticks(yticks)
    ax.set_yticklabels(['%g' % v for v in yticks])
    for s in ['top', 'right']:
        ax.spines[s].set_visible(False)
    for s in ['left', 'bottom']:
        ax.spines[s].set_linewidth(0.5)
        ax.spines[s].set_color('#262626')
    ax.tick_params(direction='in', length=2, width=0.5, labelsize=5.2, pad=1.5, colors='#262626')

    ax.set_title(title, fontsize=6.2, fontweight='bold', pad=1.5)
    ax.set_xlabel('FEs', fontsize=6, labelpad=0.5, color='#262626')
    ax.set_ylabel('Diversity', fontsize=5.5, color='#262626')
    ax.yaxis.set_label_coords(-ylab_dx / (box[2] - box[0]), 0.5)
    ax.text(0, 1.005, r'$\times10^{%d}$' % expo, transform=ax.transAxes,
            fontsize=4.8, ha='left', va='bottom', color='#262626')
    ax.annotate(r'$\times10^{4}$', xy=(1, 0), xycoords='axes fraction', xytext=(0, -5.5),
                textcoords='offset points', ha='right', va='top', fontsize=4.8, color='#262626')

    l, t, r, b = lbox
    leg = ax.legend([handles[i] for i in leg_order], [algos[i] for i in leg_order],
                    ncol=7, loc='center', mode='expand',
                    bbox_to_anchor=(l / W, 1 - b / H, (r - l) / W, (b - t) / H),
                    bbox_transform=fig.transFigure, fontsize=4.6, frameon=True, fancybox=False,
                    handlelength=2.4, handletextpad=0.3, columnspacing=0.4, borderpad=0.25,
                    labelspacing=0.15, borderaxespad=0)
    leg.get_frame().set_edgecolor('#8c8c8c')
    leg.get_frame().set_linewidth(0.5)

fig.savefig('out.png', dpi=100, facecolor='white')
